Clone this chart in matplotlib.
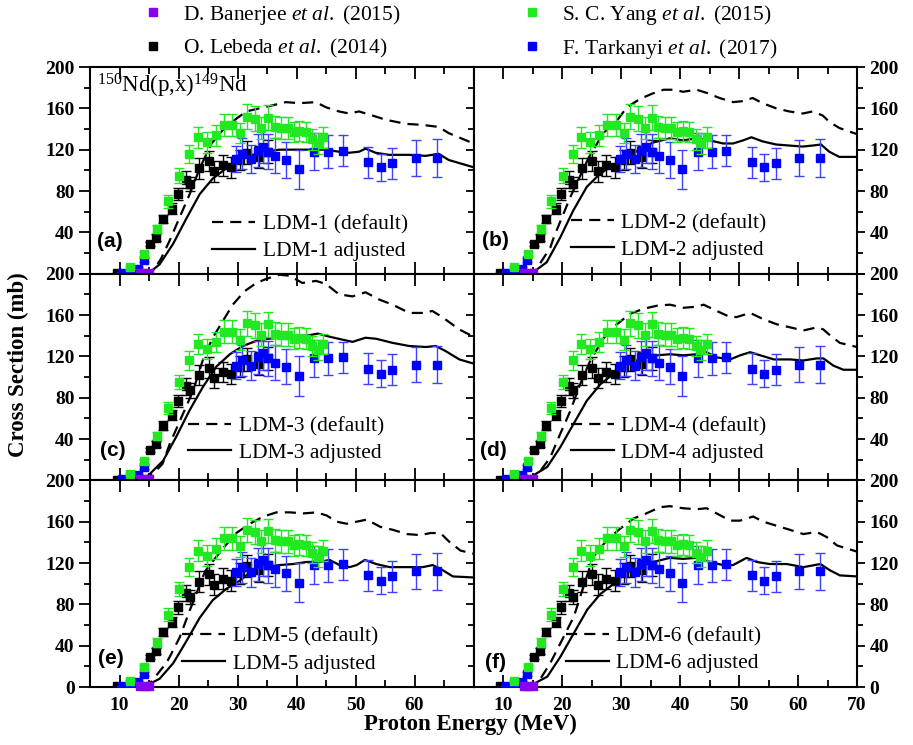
import matplotlib
matplotlib.use('Agg')
import matplotlib.pyplot as plt
from matplotlib.ticker import MultipleLocator, FuncFormatter
from matplotlib.lines import Line2D

plt.rcParams['font.family'] = ['Liberation Serif', 'DejaVu Serif']
plt.rcParams['font.weight'] = 'bold'
plt.rcParams['mathtext.fontset'] = 'custom'
plt.rcParams['mathtext.rm'] = 'Liberation Serif:weight=normal'
plt.rcParams['mathtext.it'] = 'Liberation Serif:style=italic:weight=normal'
plt.rcParams['mathtext.bf'] = 'Liberation Serif:weight=bold'

# ---------------- experimental data ----------------
yang_E = [11.8, 14.2, 16.4, 18.2, 20.1, 21.8, 23.3, 24.8, 26.3, 27.7, 29.1, 30.5, 31.6,
          32.9, 34.0, 35.2, 36.3, 37.4, 38.5, 39.5, 40.5, 41.6, 42.7, 43.6, 44.5]
yang_s = [6, 19, 43, 70, 95, 116, 132, 127, 134, 144, 144, 136, 152,
          150, 141, 151, 142, 141, 141, 137, 138, 137, 130, 126, 132]
yang_e = [1, 2, 4, 6, 7, 9, 10, 10, 10, 11, 11, 10, 12,
          12, 11, 12, 11, 11, 11, 10, 10, 10, 10, 10, 10]

lebeda_E = [9.5, 15.2, 16.2, 17.3, 18.9, 19.9, 21.2, 21.9, 23.4, 25.1, 26.1, 27.5, 28.9,
            30.5, 31.6, 33.6, 35.2]
lebeda_s = [0.5, 29, 35, 53, 63, 77, 91, 87, 102, 109, 99, 105, 103,
            110, 117, 113, 118]
lebeda_e = [0.2, 2, 3, 4, 5, 6, 8, 7, 10, 10, 10, 10, 10,
            10, 11, 11, 11]

tark_E = [10.5, 11.7, 13.2, 14.1, 29.8, 30.8, 32.3, 33.4, 34.3, 35.2, 36.4, 38.3, 40.4,
          43.0, 45.4, 47.8, 52.2, 54.3, 56.2, 60.2, 63.8]
tark_s = [1, 1, 5, 13, 111, 116, 111, 119, 123, 118, 114, 110, 101,
          118, 118, 119, 108, 103, 107, 112, 112]
tark_e = [0.3, 0.3, 1, 2, 13, 15, 14, 16, 16, 17, 17, 17, 19,
          18, 16, 15, 15, 13, 15, 17, 18]

banerjee_E = [13.5, 14.3, 15.0]
banerjee_s = [1, 1, 1]

# ---------------- model curves (LDM-1 ... LDM-6) ----------------
def_E = [
    [14.0, 15.7, 17.0, 18.5, 20.0, 21.9, 23.6, 25.6, 27.5, 29.8, 31.5, 33.7, 36.0, 38.2, 40.5,
     43.3, 45.0, 47.2, 48.9, 50.6, 52.9, 55.1, 58.5, 61.3, 64.1, 65.8, 70.0],
    [14.0, 15.5, 18.0, 18.6, 21.4, 24.5, 27.0, 29.3, 31.0, 33.2, 35.2, 37.2, 39.1, 40.5, 42.8,
     44.5, 46.7, 49.0, 50.7, 52.3, 54.0, 56.3, 58.5, 60.8, 62.5, 64.2, 65.3, 67.0, 70.0],
    [14.0, 16.3, 17.3, 18.5, 20.5, 22.5, 24.1, 25.8, 27.5, 29.2, 31.2, 33.2, 34.9, 37.1, 38.8,
     41.0, 43.3, 45.0, 47.2, 49.5, 51.7, 54.0, 56.3, 59.1, 61.9, 63.0, 64.7, 67.6, 70.0],
    [14.0, 15.8, 18.0, 19.7, 21.4, 23.0, 24.8, 27.1, 29.3, 31.5, 33.8, 36.1, 38.3, 40.6, 42.8,
     44.0, 46.2, 48.5, 49.6, 51.9, 54.1, 56.4, 58.7, 60.9, 63.2, 64.3, 65.5, 67.1, 70.0],
    [14.0, 15.1, 17.9, 18.5, 20.2, 21.9, 24.5, 27.5, 29.8, 32.1, 34.4, 36.6, 38.9, 41.2, 43.4,
     45.1, 46.8, 48.5, 50.2, 51.9, 54.2, 56.4, 58.7, 61.0, 62.7, 64.4, 65.8, 67.8, 70.0],
    [14.0, 15.8, 18.0, 19.7, 22.0, 23.8, 25.3, 27.6, 29.8, 32.1, 34.3, 36.6, 38.3, 40.5, 42.8,
     44.5, 46.2, 48.5, 50.2, 52.4, 54.1, 56.4, 58.7, 60.9, 63.2, 64.9, 66.6, 70.0],
]
def_s = [
    [0, 3, 14, 32, 52, 77, 102, 126, 139, 150, 157, 160, 163, 166, 165,
     166, 161, 157, 155, 157, 153, 149, 145, 144, 142, 136, 126],
    [0, 3, 25, 35, 74, 112, 136, 148, 161, 169, 174, 178, 178, 176, 178,
     175, 170, 166, 167, 170, 165, 160, 157, 155, 157, 153, 147, 141, 135],
    [0, 10, 16, 35, 61, 87, 116, 138, 154, 170, 183, 191, 195, 199, 198,
     191, 193, 190, 180, 178, 182, 175, 170, 162, 162, 164, 158, 146, 139],
    [0, 5, 22, 45, 67, 92, 116, 138, 151, 161, 166, 169, 170, 167, 168,
     170, 164, 158, 158, 162, 156, 151, 148, 145, 148, 146, 140, 133, 129],
    [0, 3, 23, 29, 48, 74, 112, 134, 149, 158, 165, 169, 169, 168, 169,
     166, 160, 158, 160, 162, 155, 152, 148, 147, 149, 149, 141, 132, 129],
    [0, 3, 23, 42, 68, 100, 126, 142, 153, 163, 168, 174, 175, 173, 172,
     173, 168, 161, 161, 165, 160, 156, 152, 148, 150, 145, 137, 131],
]
adj_E = [
    [14.0, 15.5, 16.8, 19.1, 21.3, 23.6, 25.8, 28.1, 30.3, 32.6, 34.8, 37.1, 39.3, 42.7, 45.0,
     47.2, 48.9, 50.6, 51.7, 53.4, 55.7, 59.1, 61.9, 64.1, 65.8, 70.0],
    [14.0, 15.5, 17.4, 19.7, 21.9, 24.2, 26.5, 28.7, 31.0, 33.2, 35.5, 38.3, 40.5, 42.8, 45.0,
     47.3, 49.0, 50.7, 52.1, 54.0, 56.3, 58.5, 60.8, 62.5, 63.9, 65.3, 67.0, 70.0],
    [14.0, 15.1, 17.4, 19.6, 21.9, 24.1, 26.4, 28.7, 30.9, 33.2, 35.2, 37.1, 39.4, 41.7, 43.6,
     45.6, 47.9, 49.5, 51.7, 53.5, 56.3, 59.1, 61.9, 63.6, 65.3, 67.6, 70.0],
    [14.0, 15.2, 17.5, 19.7, 22.0, 24.2, 26.5, 28.7, 31.0, 33.3, 36.1, 38.3, 40.6, 42.8, 44.5,
     46.2, 48.5, 50.2, 51.9, 53.6, 55.9, 58.7, 60.9, 63.2, 64.3, 66.0, 67.7, 70.0],
    [14.0, 15.1, 16.8, 19.1, 21.3, 23.6, 25.8, 28.1, 30.4, 32.6, 34.9, 37.1, 39.4, 41.7, 43.9,
     45.6, 47.3, 49.0, 50.2, 51.6, 53.5, 55.8, 58.6, 61.4, 63.1, 64.8, 66.5, 70.0],
    [14.0, 15.2, 17.5, 19.7, 22.0, 24.3, 26.5, 28.8, 31.0, 33.3, 35.5, 38.3, 40.5, 42.8, 45.1,
     47.3, 49.0, 51.3, 53.0, 55.2, 58.1, 60.9, 63.8, 65.4, 67.1, 70.0],
]
adj_s = [
    [0, 3, 9, 29, 53, 77, 92, 102, 110, 115, 118, 120, 120, 120, 120,
     118, 117, 118, 121, 117, 115, 115, 114, 116, 110, 103],
    [0, 3, 11, 35, 61, 84, 97, 105, 111, 121, 127, 131, 129, 131, 129,
     126, 126, 129, 132, 128, 125, 124, 123, 124, 125, 118, 113, 113],
    [0, 6, 19, 42, 68, 90, 110, 122, 130, 135, 137, 138, 140, 140, 142,
     139, 136, 134, 138, 137, 133, 130, 129, 130, 125, 117, 113],
    [0, 5, 13, 32, 55, 77, 93, 103, 113, 117, 121, 122, 121, 122, 124,
     119, 117, 121, 124, 121, 117, 117, 116, 118, 118, 111, 107, 107],
    [0, 3, 8, 23, 44, 67, 84, 95, 103, 113, 116, 118, 119, 121, 121,
     123, 118, 116, 118, 123, 119, 116, 116, 116, 118, 113, 107, 106],
    [0, 3, 10, 29, 52, 75, 90, 100, 111, 116, 121, 125, 124, 125, 121,
     118, 118, 125, 121, 119, 119, 116, 119, 113, 108, 107],
]

panel_tags = ['(a)', '(b)', '(c)', '(d)', '(e)', '(f)']
leg_pos = [(0.318, 0.173), (0.253, 0.181), (0.256, 0.198),
           (0.253, 0.198), (0.240, 0.178), (0.240, 0.180)]
tag_pos = [(0.018, 0.155), (0.023, 0.160), (0.026, 0.145),
           (0.018, 0.145), (0.020, 0.140), (0.030, 0.120)]

C_GREEN = '#22e822'
C_BLUE = '#0000ff'
C_PURPLE = '#8a00f0'
C_BLACK = '#000000'

fig = plt.figure(figsize=(9.13, 7.45), dpi=100)
gs = fig.add_gridspec(3, 2, left=90/913, right=857/913, top=1-67/745,
                      bottom=1-687/745, wspace=0, hspace=0)

LS_DASH = (0, (5, 3.2))

for k in range(6):
    r, c = divmod(k, 2)
    ax = fig.add_subplot(gs[r, c])
    ax.plot(def_E[k], def_s[k], color='black', lw=1.6, ls=LS_DASH, zorder=2)
    ax.plot(adj_E[k], adj_s[k], color='black', lw=1.6, ls='-', zorder=2)

    ax.errorbar(lebeda_E, lebeda_s, yerr=lebeda_e, fmt='s', ms=6, color=C_BLACK,
                ecolor=C_BLACK, elinewidth=1, capsize=3.5, capthick=1, zorder=3)
    ax.errorbar(tark_E, tark_s, yerr=tark_e, fmt='s', ms=6, color=C_BLUE,
                ecolor='#4040ff', elinewidth=1, capsize=3.5, capthick=1, zorder=4)
    ax.errorbar(yang_E, yang_s, yerr=yang_e, fmt='s', ms=6, color=C_GREEN,
                ecolor=C_GREEN, elinewidth=1, capsize=3.5, capthick=1, zorder=5)
    ax.plot(banerjee_E, banerjee_s, 's', ms=6, color=C_PURPLE, zorder=6, clip_on=False)

    ax.set_xlim(5, 70)
    ax.set_ylim(0, 200)
    ax.xaxis.set_major_locator(MultipleLocator(10))
    ax.xaxis.set_minor_locator(MultipleLocator(5))
    ax.yaxis.set_major_locator(MultipleLocator(40))
    ax.yaxis.set_minor_locator(MultipleLocator(20))
    for s in ax.spines.values():
        s.set_linewidth(1.5)

    ax.tick_params(axis='both', which='both', labelsize=14,
                   labelfontfamily='Liberation Serif')
    ax.tick_params(axis='x', which='both', direction='in', top=True, bottom=True, width=1.3)
    ax.tick_params(axis='x', which='major', length=8.5)
    ax.tick_params(axis='x', which='minor', length=5)

    if c == 0:
        ax.tick_params(axis='y', which='both', left=True, right=False, direction='out',
                       labelleft=True, labelright=False, width=1.3)
        ax.tick_params(axis='y', which='major', length=8)
        ax.tick_params(axis='y', which='minor', length=4)
    else:
        ax.tick_params(axis='y', which='both', left=True, right=True, direction='out',
                       labelleft=False, labelright=True, width=1.3)
        ax.tick_params(axis='y', which='major', length=6)
        ax.tick_params(axis='y', which='minor', length=4)

    if r < 2:
        ax.yaxis.set_major_formatter(FuncFormatter(lambda v, p: '' if v == 0 else f'{v:.0f}'))
        ax.tick_params(axis='x', labelbottom=False)
    else:
        if c == 0:
            ax.xaxis.set_major_formatter(FuncFormatter(lambda v, p: '' if v >= 70 else f'{v:.0f}'))
        else:
            ax.xaxis.set_major_formatter(FuncFormatter(lambda v, p: f'{v:.0f}'))
    ax.tick_params(axis='x', pad=7)
    ax.tick_params(axis='y', pad=3)

    h1 = Line2D([], [], color='black', lw=1.6, ls=LS_DASH)
    h2 = Line2D([], [], color='black', lw=1.6, ls='-')
    ax.legend([h1, h2], [f'LDM-{k+1} (default)', f'LDM-{k+1} adjusted'],
              loc='center left', bbox_to_anchor=leg_pos[k], frameon=False,
              borderpad=0, borderaxespad=0, handlelength=2.0, handletextpad=0.35,
              labelspacing=0.3, prop=dict(family='Liberation Serif', size=15.5,
                                          weight='normal'))

    ax.text(tag_pos[k][0], tag_pos[k][1], panel_tags[k], transform=ax.transAxes,
            ha='left', va='center', fontsize=15, fontweight='bold',
            family='Liberation Sans')
    if k == 0:
        ax.text(0.018, 0.975, r'$^{150}$Nd(p,x)$^{149}$Nd', transform=ax.transAxes,
                ha='left', va='top', fontsize=16.5, fontweight='normal',
                family='Liberation Serif')

fig.text(18/913, 1-365/745, 'Cross Section (mb)', rotation=90, ha='center', va='center',
         fontsize=16.5, fontweight='bold', family='Liberation Serif')
fig.text(470/913, 1-724/745, 'Proton Energy (MeV)', ha='center', va='center',
         fontsize=16.5, fontweight='bold', family='Liberation Serif')

handles = [Line2D([], [], ls='none', marker='s', ms=6, color=C_PURPLE),
           Line2D([], [], ls='none', marker='s', ms=6, color=C_BLACK),
           Line2D([], [], ls='none', marker='s', ms=6, color=C_GREEN),
           Line2D([], [], ls='none', marker='s', ms=6, color=C_BLUE)]
labels = [r'D. Banerjee $\mathit{et\ al.}$ (2015)',
          r'O. Lebeda $\mathit{et\ al.}$ (2014)',
          r'S. C. Yang $\mathit{et\ al.}$ (2015)',
          r'F. Tarkanyi $\mathit{et\ al.}$ (2017)']
fig.legend(handles, labels, ncol=2, loc='upper left', bbox_to_anchor=(142/913, 1-3/745),
           frameon=False, borderpad=0, borderaxespad=0, handlelength=1.0,
           handletextpad=0.9, columnspacing=5.6, labelspacing=0.45,
           prop=dict(family='Liberation Serif', size=15.5, weight='normal'))

fig.savefig('out.png', dpi=100)
